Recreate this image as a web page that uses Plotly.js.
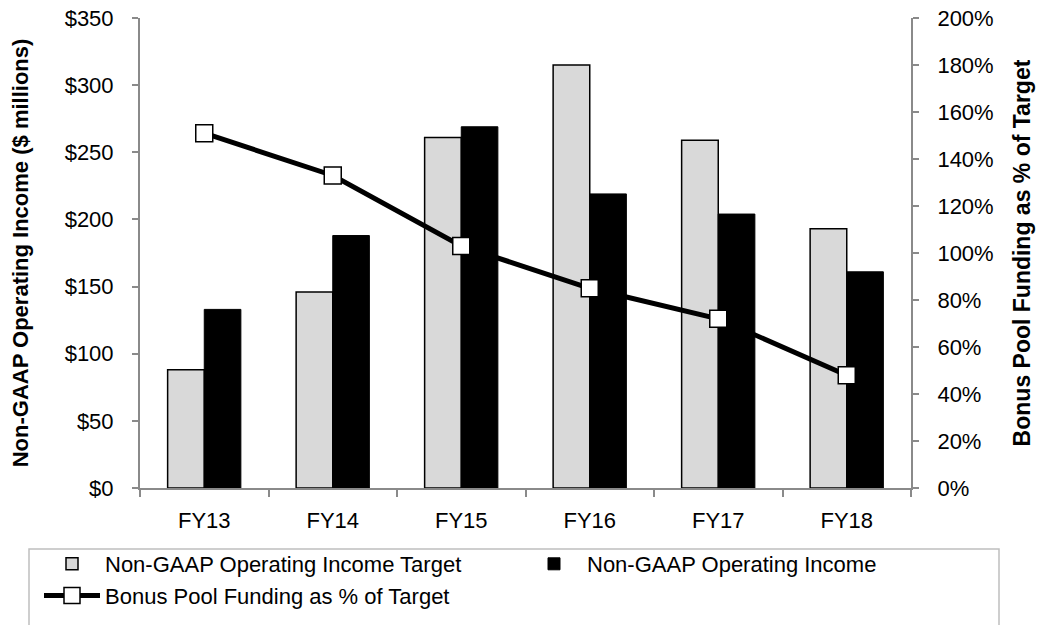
<!DOCTYPE html>
<html>
<head>
<meta charset="utf-8">
<script src="https://cdn.plot.ly/plotly-3.0.1.min.js"></script>
<style>
html,body{margin:0;padding:0;background:#fff;}
#chart{width:1039px;height:625px;}
</style>
</head>
<body>
<div id="chart"></div>
<script>
const categories = ["FY13", "FY14", "FY15", "FY16", "FY17", "FY18"];
const targetIncome = [88, 146, 261, 315, 259, 193];
const actualIncome = [133, 188, 269, 219, 204, 161];
const bonusPct = [151, 133, 103, 85, 72, 48];

const FONT = "Liberation Sans, Arial, sans-serif";
const AXIS_COLOR = "#8a8a8a";
const W = 1039, H = 625;
const M = {l: 140, r: 128, t: 18, b: 137};
const PW = W - M.l - M.r, PH = H - M.t - M.b;
// helpers converting pixel positions of the legend frame to paper coordinates
const px2paperX = p => (p - M.l) / PW;
const px2paperY = p => (H - M.b - p) / PH;

const traces = [
  {
    type: "bar", name: "Non-GAAP Operating Income Target",
    x: categories, y: targetIncome, legendgroup: "g1", legendwidth: 411,
    marker: {color: "#d9d9d9", line: {color: "#000000", width: 1.5}}
  },
  {
    type: "bar", name: "Non-GAAP Operating Income",
    x: categories, y: actualIncome, legendgroup: "g2",
    marker: {color: "#000000", line: {color: "#000000", width: 1}}
  },
  {
    type: "scatter", mode: "lines+markers", name: "Bonus Pool Funding as % of Target",
    x: categories, y: bonusPct, yaxis: "y2", legendgroup: "g1", legendwidth: 411,
    line: {color: "#000000", width: 5},
    marker: {symbol: "square", size: 17, color: "#ffffff", line: {color: "#000000", width: 1.5}}
  }
];

const layout = {
  width: W, height: H,
  margin: {l: M.l, r: M.r, t: M.t, b: M.b, autoexpand: false},
  paper_bgcolor: "#ffffff", plot_bgcolor: "#ffffff",
  font: {family: FONT, size: 22, color: "#000000"},
  barmode: "group", bargap: 0.43, bargroupgap: 0,
  showlegend: true,
  xaxis: {
    type: "category", showgrid: false, zeroline: false,
    showline: true, linecolor: AXIS_COLOR, linewidth: 2,
    ticks: "outside", tickson: "boundaries", ticklen: 7, tickcolor: AXIS_COLOR, tickwidth: 2,
    ticklabelstandoff: 12,
    tickfont: {family: FONT, size: 22, color: "#000000"}
  },
  yaxis: {
    range: [0, 350], dtick: 50, tickprefix: "$",
    showgrid: false, zeroline: false,
    showline: true, linecolor: AXIS_COLOR, linewidth: 2,
    ticks: "outside", ticklen: 6, tickcolor: AXIS_COLOR, tickwidth: 2,
    ticklabelstandoff: 14,
    tickfont: {family: FONT, size: 22, color: "#000000"},
    title: {text: "Non-GAAP Operating Income ($ millions)", standoff: 30,
            font: {family: FONT, size: 22, color: "#000000", weight: "bold"}}
  },
  yaxis2: {
    overlaying: "y", side: "right",
    range: [0, 200], dtick: 20, ticksuffix: "%",
    showgrid: false, zeroline: false,
    showline: true, linecolor: AXIS_COLOR, linewidth: 2,
    ticks: "outside", ticklen: 6, tickcolor: AXIS_COLOR, tickwidth: 2,
    ticklabelstandoff: 14,
    tickfont: {family: FONT, size: 22, color: "#000000"},
    title: {text: "Bonus Pool Funding as % of Target", standoff: 21,
            font: {family: FONT, size: 23, color: "#000000", weight: "bold"}}
  },
  legend: {
    orientation: "h", traceorder: "grouped",
    xref: "paper", yref: "paper",
    x: px2paperX(39), y: px2paperY(543), xanchor: "left", yanchor: "top",
    bgcolor: "rgba(0,0,0,0)", borderwidth: 0,
    font: {family: FONT, size: 22, color: "#000000"},
    itemwidth: 56
  },
  shapes: [{
    type: "rect", xref: "paper", yref: "paper",
    x0: px2paperX(29), x1: px2paperX(999),
    y0: px2paperY(549), y1: px2paperY(660),
    line: {color: "#bfbfbf", width: 1.5}, fillcolor: "rgba(0,0,0,0)", layer: "below"
  }]
};

Plotly.newPlot("chart", traces, layout, {staticPlot: true, displayModeBar: false});
</script>
</body>
</html>
